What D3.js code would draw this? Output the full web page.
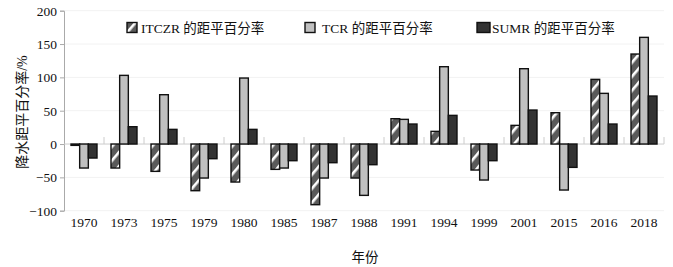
<!DOCTYPE html>
<html>
<head>
<meta charset="utf-8">
<script src="https://cdn.jsdelivr.net/npm/d3@7"></script>
<style>
  body { margin: 0; background: #fff; }
  svg text { font-family: "Liberation Serif", "Noto Sans CJK SC", serif; fill: #111; }
</style>
</head>
<body>
<svg class="chart"></svg>
<script>
var years = ['1970', '1973', '1975', '1979', '1980', '1985', '1987', '1988',
             '1991', '1994', '1999', '2001', '2015', '2016', '2018'];
var seriesNames = ['ITCZR', 'TCR', 'SUMR'];
var legendLabels = ['ITCZR 的距平百分率', 'TCR 的距平百分率', 'SUMR 的距平百分率'];
var itczrValues = [-2, -36, -41, -70, -57, -38, -91, -51, 38, 19, -39, 28, 47, 97, 135];
var tcrValues = [-36, 103, 74, -51, 99, -36, -51, -77, 37, 116, -54, 113, -69, 76, 160];
var sumrValues = [-21, 26, 22, -22, 22, -25, -28, -31, 30, 43, -25, 51, -35, 30, 72];
var yTicks = [-100, -50, 0, 50, 100, 150, 200];

var chartWidth = 673;
var chartHeight = 267;

var chart = d3.select('.chart').attr('width', chartWidth).attr('height', chartHeight);

// hatch for the ITCZR bars
var defs = chart.append('defs');
var pat = defs.append('pattern')
    .attr('id', 'hatch')
    .attr('patternUnits', 'userSpaceOnUse')
    .attr('width', 9).attr('height', 12)
    .attr('patternTransform', 'rotate(40)');
pat.append('rect').attr('width', 9).attr('height', 12).style('fill', '#5a5a5a');
pat.append('rect').attr('x', 0).attr('y', 0).attr('width', 2.6).attr('height', 12)
    .style('fill', '#fff');

var fills = {ITCZR: 'url(#hatch)', TCR: '#c0c0c0', SUMR: '#333'};

var x = d3.scaleBand().domain(years).range([64, 664]);
var x1 = d3.scaleBand().domain(seriesNames).range([7, 33]);
var y = d3.scaleLinear().domain([-100, 200]).range([210.7, 10.7]);

// faint grid
chart.append('g').selectAll('line')
    .data(yTicks.filter(d => d !== 0))
    .join('line')
    .attr('x1', 64).attr('x2', 664)
    .attr('y1', d => y(d)).attr('y2', d => y(d))
    .style('stroke', '#f2f2f2');

// left axis
var yAxis = d3.axisLeft(y).tickValues(yTicks).tickSize(4).tickPadding(3)
    .tickFormat(d => d < 0 ? '\u2212' + Math.abs(d) : d);
var gy = chart.append('g').attr('transform', 'translate(64,0)').call(yAxis);
gy.select('.domain').style('stroke', '#aaa');
gy.selectAll('.tick line').style('stroke', '#aaa');
gy.selectAll('.tick text').style('font-size', '13.5px')
    .style('font-family', '"Liberation Serif", serif').style('fill', '#111');

// zero line with category ticks
chart.append('line')
    .attr('x1', 64).attr('x2', 664)
    .attr('y1', y(0)).attr('y2', y(0))
    .style('stroke', '#ccc');
chart.append('g').selectAll('line')
    .data(years)
    .join('line')
    .attr('x1', d => x(d) + x.bandwidth())
    .attr('x2', d => x(d) + x.bandwidth())
    .attr('y1', y(0)).attr('y2', y(0) - 7)
    .style('stroke', '#ccc');

// bars
var rows = years.map((yr, i) => ({
  year: yr,
  vals: [
    {key: 'ITCZR', v: itczrValues[i]},
    {key: 'TCR', v: tcrValues[i]},
    {key: 'SUMR', v: sumrValues[i]}
  ]
}));

var groups = chart.append('g').selectAll('g.grp')
    .data(rows)
    .join('g')
    .attr('class', 'grp')
    .attr('transform', d => 'translate(' + x(d.year) + ',0)');

groups.selectAll('rect')
    .data(d => d.vals)
    .join('rect')
    .attr('x', d => x1(d.key))
    .attr('width', x1.bandwidth())
    .attr('y', d => y(Math.max(0, d.v)))
    .attr('height', d => Math.abs(y(d.v) - y(0)))
    .style('fill', d => fills[d.key])
    .style('stroke', '#111')
    .style('stroke-width', 1.4);

// x labels
chart.append('g').selectAll('text')
    .data(years)
    .join('text')
    .attr('x', d => x(d) + x.bandwidth() / 2)
    .attr('y', 227)
    .attr('text-anchor', 'middle')
    .style('font-size', '13.5px')
    .text(d => d);

// axis titles
chart.append('text')
    .attr('x', 365).attr('y', 262)
    .attr('text-anchor', 'middle')
    .style('font-size', '13.5px')
    .style('font-family', '"Noto Sans CJK SC", serif')
    .text('年份');

chart.append('text')
    .attr('transform', 'translate(27,112) rotate(-90)')
    .attr('text-anchor', 'middle')
    .style('font-size', '14px')
    .text('降水距平百分率/%');

// legend
var legendX = [127, 305, 477];
var legendTextX = [141, 322, 492];
var lg = chart.append('g').selectAll('g')
    .data(seriesNames)
    .join('g');
lg.append('rect')
    .attr('x', (d, i) => legendX[i])
    .attr('y', 22.5)
    .attr('width', (d, i) => i === 2 ? 13 : 10)
    .attr('height', 10)
    .style('fill', d => fills[d])
    .style('stroke', '#111')
    .style('stroke-width', 1.4);
lg.append('text')
    .attr('x', (d, i) => legendTextX[i])
    .attr('y', 33)
    .style('font-size', '13.5px')
    .text((d, i) => legendLabels[i]);
</script>
</body>
</html>
